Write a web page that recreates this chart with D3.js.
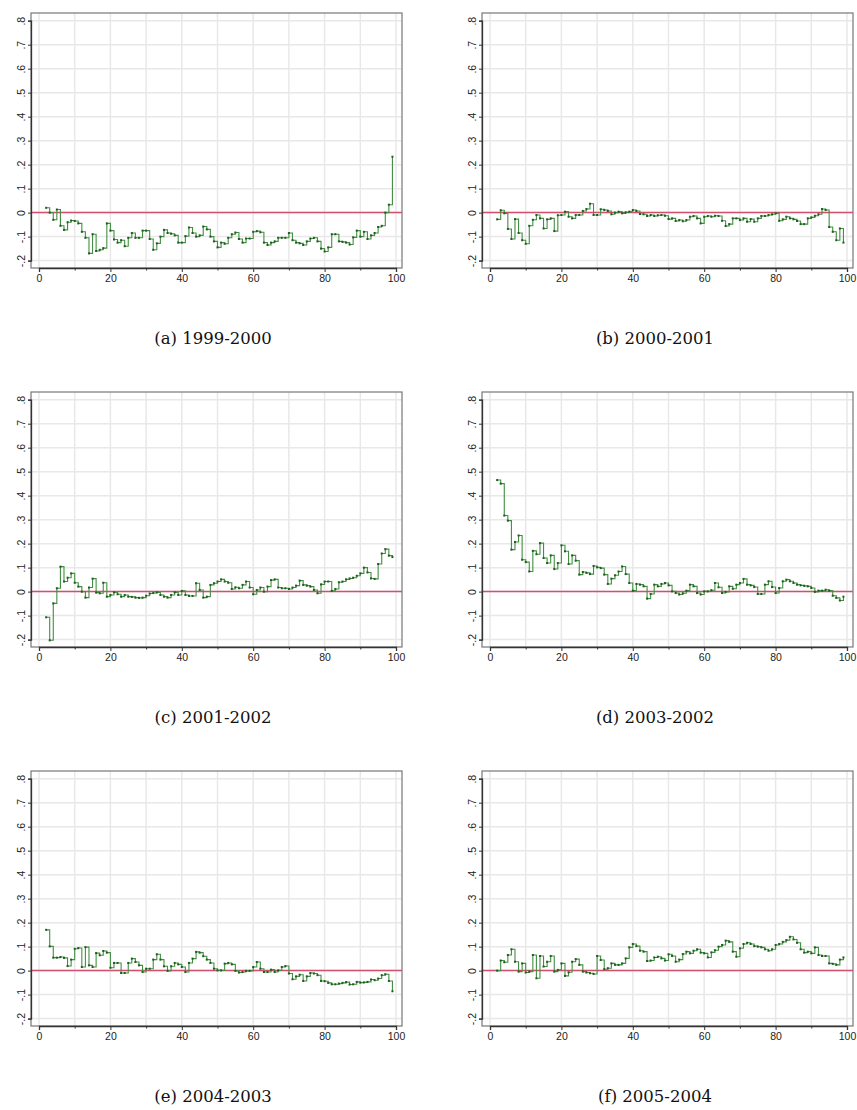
<!DOCTYPE html>
<html><head><meta charset="utf-8">
<script src="https://cdn.jsdelivr.net/npm/d3@7"></script>
<style>body{margin:0;background:#fff}</style>
</head><body>
<svg id="chart" width="857" height="1110"></svg>
<script>
// ---------------- DATA ----------------
const percentiles = [2,3,4,5,6,7,8,9,10,11,12,13,14,15,16,17,18,19,20,21,22,23,24,25,26,27,28,29,30,31,32,33,34,35,36,37,38,39,40,41,42,43,44,45,46,47,48,49,50,51,52,53,54,55,56,57,58,59,60,61,62,63,64,65,66,67,68,69,70,71,72,73,74,75,76,77,78,79,80,81,82,83,84,85,86,87,88,89,90,91,92,93,94,95,96,97,98,99];

const series_1999_2000 = [0.02,0.0,-0.03,0.013,-0.055,-0.072,-0.04,-0.033,-0.035,-0.045,-0.08,-0.105,-0.17,-0.09,-0.16,-0.155,-0.148,-0.045,-0.075,-0.112,-0.125,-0.115,-0.14,-0.105,-0.085,-0.105,-0.105,-0.075,-0.075,-0.11,-0.155,-0.128,-0.1,-0.072,-0.085,-0.088,-0.095,-0.125,-0.125,-0.098,-0.062,-0.085,-0.1,-0.095,-0.058,-0.07,-0.1,-0.12,-0.145,-0.125,-0.13,-0.105,-0.09,-0.083,-0.11,-0.125,-0.108,-0.108,-0.08,-0.077,-0.082,-0.125,-0.135,-0.125,-0.12,-0.105,-0.105,-0.105,-0.085,-0.115,-0.125,-0.128,-0.135,-0.12,-0.108,-0.105,-0.12,-0.15,-0.162,-0.145,-0.09,-0.09,-0.12,-0.122,-0.125,-0.133,-0.103,-0.075,-0.1,-0.08,-0.11,-0.095,-0.085,-0.06,-0.055,0.0,0.033,0.233];

const series_2000_2001 = [-0.028,0.01,-0.003,-0.068,-0.11,-0.027,-0.085,-0.115,-0.13,-0.055,-0.03,-0.01,-0.024,-0.066,-0.028,-0.024,-0.077,-0.011,-0.01,0.004,-0.017,-0.024,-0.01,-0.01,0.007,0.015,0.037,-0.01,-0.01,0.014,0.011,0.007,-0.007,0.0,0.004,-0.003,0.001,0.004,0.011,0.007,-0.006,-0.007,-0.014,-0.01,-0.014,-0.011,-0.01,-0.013,-0.027,-0.024,-0.035,-0.031,-0.036,-0.031,-0.017,-0.014,-0.024,-0.045,-0.017,-0.014,-0.017,-0.013,-0.014,-0.034,-0.056,-0.048,-0.024,-0.024,-0.031,-0.024,-0.038,-0.027,-0.038,-0.024,-0.014,-0.014,-0.01,-0.007,-0.003,-0.034,-0.028,-0.017,-0.024,-0.028,-0.035,-0.048,-0.048,-0.024,-0.02,-0.013,-0.007,0.015,0.011,-0.06,-0.08,-0.115,-0.066,-0.125];

const series_2001_2002 = [-0.107,-0.203,-0.049,0.014,0.104,0.042,0.058,0.076,0.037,0.021,0.0,-0.025,0.017,0.054,-0.004,-0.007,0.037,-0.021,-0.014,-0.003,-0.011,-0.021,-0.014,-0.021,-0.022,-0.025,-0.026,-0.025,-0.017,-0.008,-0.006,-0.003,-0.014,-0.021,-0.025,-0.014,-0.003,-0.014,0.003,-0.014,-0.018,-0.018,0.035,0.007,-0.025,-0.021,0.028,0.035,0.042,0.051,0.042,0.037,0.011,0.018,0.014,0.028,0.042,0.017,-0.011,0.007,0.017,0.0,0.021,0.048,0.051,0.017,0.014,0.014,0.011,0.017,0.025,0.046,0.028,0.025,0.021,0.007,-0.007,0.03,0.042,0.042,0.003,0.011,0.039,0.042,0.051,0.055,0.058,0.066,0.076,0.1,0.08,0.055,0.053,0.115,0.159,0.177,0.15,0.144];

const series_2003_2002 = [0.465,0.45,0.317,0.296,0.175,0.207,0.234,0.133,0.123,0.084,0.17,0.156,0.202,0.14,0.119,0.151,0.094,0.119,0.193,0.168,0.115,0.151,0.129,0.071,0.082,0.078,0.073,0.107,0.101,0.098,0.071,0.032,0.054,0.068,0.084,0.105,0.073,0.036,0.004,0.032,0.029,0.022,-0.029,-0.01,0.029,0.022,0.032,0.036,0.026,0.001,-0.006,-0.012,-0.007,0.004,0.029,0.022,-0.006,-0.012,0.001,0.001,0.006,0.036,0.018,-0.006,-0.001,0.022,0.012,0.029,0.036,0.053,0.029,0.026,0.019,-0.01,-0.01,0.029,0.043,0.019,-0.006,0.015,0.043,0.05,0.043,0.036,0.029,0.026,0.024,0.022,0.015,-0.001,0.004,0.004,0.008,0.004,-0.017,-0.026,-0.037,-0.021];

const series_2004_2003 = [0.17,0.101,0.054,0.054,0.057,0.053,0.019,0.046,0.091,0.094,0.015,0.098,0.022,0.015,0.073,0.064,0.082,0.075,0.012,0.032,0.032,-0.01,-0.01,0.032,0.05,0.036,0.022,-0.006,0.008,0.008,0.046,0.068,0.046,0.018,-0.001,0.018,0.032,0.026,0.015,-0.006,0.032,0.05,0.078,0.075,0.06,0.046,0.032,0.008,0.001,0.001,0.029,0.032,0.026,-0.001,-0.008,-0.006,-0.001,-0.001,0.015,0.036,0.008,-0.006,-0.006,0.004,-0.006,0.001,0.015,0.019,-0.012,-0.036,-0.024,-0.017,-0.043,-0.024,-0.01,-0.012,-0.019,-0.043,-0.044,-0.051,-0.057,-0.057,-0.054,-0.051,-0.048,-0.058,-0.057,-0.047,-0.05,-0.049,-0.047,-0.037,-0.04,-0.033,-0.019,-0.015,-0.043,-0.086];

const series_2005_2004 = [0.0,0.042,0.035,0.065,0.089,0.037,-0.004,0.03,-0.008,-0.004,0.065,-0.032,0.061,0.017,0.037,0.061,-0.004,0.003,0.03,-0.022,-0.007,0.037,0.048,0.024,-0.004,-0.008,-0.011,-0.014,0.061,0.044,0.006,0.01,0.03,0.024,0.024,0.03,0.051,0.097,0.111,0.102,0.083,0.079,0.04,0.042,0.055,0.058,0.051,0.042,0.068,0.061,0.037,0.046,0.069,0.079,0.072,0.083,0.089,0.075,0.072,0.055,0.076,0.085,0.1,0.107,0.125,0.12,0.079,0.058,0.093,0.111,0.116,0.111,0.102,0.1,0.097,0.089,0.083,0.089,0.107,0.111,0.12,0.127,0.141,0.13,0.116,0.089,0.075,0.079,0.072,0.097,0.065,0.061,0.061,0.03,0.028,0.024,0.046,0.055];

const panelCaptions = ["(a) 1999-2000","(b) 2000-2001","(c) 2001-2002","(d) 2003-2002","(e) 2004-2003","(f) 2005-2004"];
const panelSeries = [series_1999_2000, series_2000_2001, series_2001_2002, series_2003_2002, series_2004_2003, series_2005_2004];

const xMajorTicks = [0,20,40,60,80,100];
const xMinorTicks = [10,30,50,70,90];
const xGridTicks = [0,10,20,30,40,50,60,70,80,90,100];
const yTicks = [-0.2,-0.1,0,0.1,0.2,0.3,0.4,0.5,0.6,0.7,0.8];
const yTickLabels = ["-.2","-.1","0",".1",".2",".3",".4",".5",".6",".7",".8"];

// ---------------- LAYOUT ----------------
const svg = d3.select("#chart");
const colLeft = [31, 482];
const rowTop = [13, 392, 771];
const frameW = 371, frameH = 255;
const captionX = [213, 655];
const captionY = [344, 723, 1102];

const lineColor = "#428f42";
const markColor = "#1e5e1e";
const refColor = "#d2506e";
const gridColor = "#e8e8e8";

panelSeries.forEach((vals, i) => {
  const col = i % 2, row = Math.floor(i / 2);
  const L = colLeft[col], T = rowTop[row], B = T + frameH, R = L + frameW;
  const x = d3.scaleLinear().domain([0, 100]).range([L + 8, L + 365]);
  const y = d3.scaleLinear().domain([-0.2, 0.8]).range([B - 7.4, T + 7.7]);
  const g = svg.append("g");

  // grid
  g.selectAll(".gx").data(xGridTicks).join("line")
    .attr("x1", d => x(d)).attr("x2", d => x(d))
    .attr("y1", T).attr("y2", B)
    .attr("stroke", gridColor).attr("stroke-width", 1.5);
  g.selectAll(".gy").data(yTicks).join("line")
    .attr("x1", L).attr("x2", R)
    .attr("y1", d => y(d)).attr("y2", d => y(d))
    .attr("stroke", gridColor).attr("stroke-width", 1.5);

  // frame
  g.append("rect").attr("x", L).attr("y", T).attr("width", frameW).attr("height", frameH)
    .attr("fill", "none").attr("stroke", "#777").attr("stroke-width", 1.2);

  // reference line at 0
  g.append("line").attr("x1", L).attr("x2", R)
    .attr("y1", y(0)).attr("y2", y(0))
    .attr("stroke", refColor).attr("stroke-width", 1.5);

  // step line
  const pts = percentiles.map((p, k) => [p, vals[k]]);
  const line = d3.line().x(d => x(d[0])).y(d => y(d[1])).curve(d3.curveStepAfter);
  g.append("path").datum(pts).attr("d", line)
    .attr("fill", "none").attr("stroke", lineColor).attr("stroke-width", 1.1);
  g.selectAll(".pt").data(pts).join("rect")
    .attr("x", d => x(d[0]) - 1).attr("y", d => y(d[1]) - 1)
    .attr("width", 2).attr("height", 2).attr("fill", markColor);

  // axes
  const yAxis = d3.axisLeft(y).tickValues(yTicks)
    .tickFormat((d, k) => yTickLabels[k]).tickSize(3).tickPadding(3);
  const ya = svg.append("g").attr("transform", `translate(${L},0)`).call(yAxis);
  ya.select(".domain").attr("stroke", "#333").attr("stroke-width", 1.3);
  ya.selectAll(".tick line").attr("stroke", "#333");
  ya.selectAll(".tick text")
    .attr("transform", `rotate(-90, -10, 0)`)
    .attr("x", -10).attr("y", 0).attr("dy", "0.35em")
    .attr("text-anchor", "middle")
    .style("font-family", "'Liberation Sans', Arial, sans-serif").style("font-size", "10.5px").attr("fill", "#222");

  const xAxis = d3.axisBottom(x).tickValues(xMajorTicks).tickFormat(d3.format("d")).tickSize(4).tickPadding(3);
  const xa = svg.append("g").attr("transform", `translate(0,${B})`).call(xAxis);
  xa.select(".domain").attr("stroke", "#333").attr("stroke-width", 1.3);
  xa.selectAll(".tick line").attr("stroke", "#333");
  xa.selectAll(".tick text")
    .style("font-family", "'Liberation Sans', Arial, sans-serif").style("font-size", "10.5px").attr("fill", "#222");
  const xMinor = d3.axisBottom(x).tickValues(xMinorTicks).tickFormat("").tickSize(2.5);
  const xm = svg.append("g").attr("transform", `translate(0,${B})`).call(xMinor);
  xm.select(".domain").remove();
  xm.selectAll(".tick line").attr("stroke", "#333");

  // caption
  svg.append("text").attr("x", captionX[col]).attr("y", captionY[row])
    .attr("text-anchor", "middle")
    .style("font-family", "'DejaVu Serif', 'Liberation Serif', serif").style("font-size", "16.5px")
    .attr("fill", "#111")
    .text(panelCaptions[i]);
});
</script>
</body></html>
